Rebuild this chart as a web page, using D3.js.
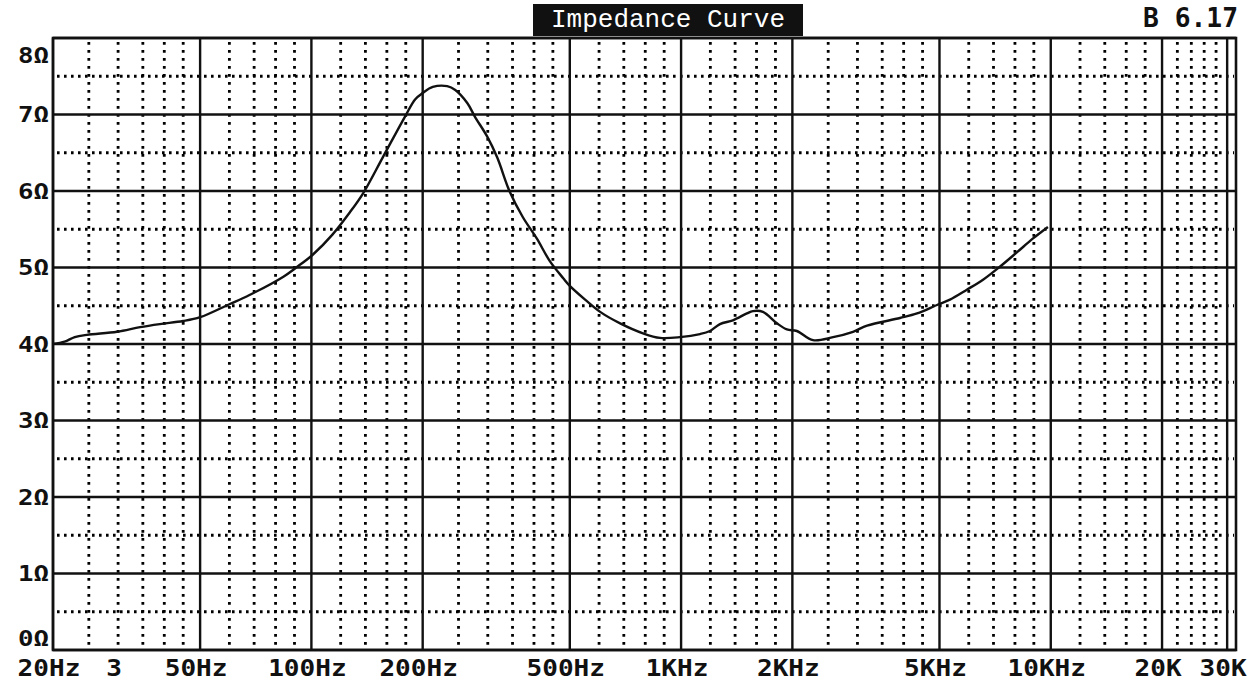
<!DOCTYPE html>
<html>
  <head>
    <meta charset="utf-8">
    <title>Impedance Curve</title>
    <script type="text/javascript" src="https://cdn.jsdelivr.net/npm/d3@7"></script>
    <style>
      body { margin: 0; background: #fff; }
    </style>
  </head>
  <body>
    <script type="text/javascript">
      var w = 1259
      var h = 682

      // curve
      var freqs = [20, 21.5, 22.9, 24.7, 29.8, 34.4, 38.9, 45, 50, 60, 68, 84, 91, 101, 114,
                   127, 138, 156, 179, 191, 200, 213, 233, 245, 264, 277, 299, 318, 344, 373,
                   407, 442, 480, 500, 550, 604, 684, 789, 877, 993, 1125, 1197, 1274, 1381, 1507,
                   1564, 1665, 1817, 1933, 2056, 2275, 2577, 2918, 3185, 3910, 4348, 4923, 5336, 5929, 6558,
                   7283, 8107, 8955, 9825];
      var ohms = [4.00, 4.03, 4.09, 4.12, 4.16, 4.22, 4.26, 4.30, 4.35, 4.52, 4.64, 4.88, 5.00, 5.17, 5.43,
                  5.72, 5.97, 6.44, 6.97, 7.20, 7.28, 7.36, 7.37, 7.32, 7.15, 6.97, 6.71, 6.44, 5.99, 5.66,
                  5.38, 5.08, 4.86, 4.76, 4.58, 4.42, 4.27, 4.14, 4.08, 4.09, 4.13, 4.17, 4.26, 4.31, 4.40,
                  4.43, 4.42, 4.27, 4.19, 4.17, 4.05, 4.09, 4.16, 4.24, 4.34, 4.40, 4.51, 4.58, 4.71, 4.84,
                  5.01, 5.20, 5.38, 5.53];

      // grid and labels
      var majorFreqs = [20, 50, 100, 200, 500, 1000, 2000, 5000, 10000, 20000, 30000];
      var minorFreqs = [25, 30, 35, 40, 45, 60, 70, 80, 90, 120, 140, 160, 180,
                        250, 300, 350, 400, 450, 600, 700, 800, 900, 1200, 1400, 1600, 1800,
                        2500, 3000, 3500, 4000, 4500, 6000, 7000, 8000, 9000,
                        12000, 14000, 16000, 18000, 22000, 24000, 26000, 28000];
      var xTickValues = [20, 30, 50, 100, 200, 500, 1000, 2000, 5000, 10000, 20000, 30000];
      var xTickLabels = ["20Hz", "3", "50Hz", "100Hz", "200Hz", "500Hz", "1KHz", "2KHz",
                         "5KHz", "10KHz", "20K", "30K"];
      var majorOhms = [0, 1, 2, 3, 4, 5, 6, 7, 8];
      var minorOhms = [0.5, 1.5, 2.5, 3.5, 4.5, 5.5, 6.5, 7.5];
      var yTickLabels = ["0Ω", "1Ω", "2Ω", "3Ω", "4Ω", "5Ω", "6Ω", "7Ω", "8Ω"];

      // plot box ("top" is taken by window.top, so use other names)
      var pLeft = 53, pRight = 1236, pTop = 38, pBottom = 650;

      var x = d3.scaleLog().domain([20, 31700]).range([pLeft, pRight]);
      var y = d3.scaleLinear().domain([0, 8]).range([pBottom, pTop]);

      var svg = d3.select("body").append("svg");
      svg.attr("width", w)
         .attr("height", h);
      svg.append("rect").attr("width", w).attr("height", h).attr("fill", "#fff");

      // dotted minor grid
      svg.selectAll(".minorX")
         .data(minorFreqs)
         .enter()
         .append("line")
         .attr("x1", function(d) { return x(d); })
         .attr("x2", function(d) { return x(d); })
         .attr("y1", pTop + 4)
         .attr("y2", pBottom - 2)
         .attr("stroke", "#000")
         .attr("stroke-width", 2.8)
         .attr("stroke-dasharray", "2.8,5.2");
      svg.selectAll(".minorY")
         .data(minorOhms)
         .enter()
         .append("line")
         .attr("x1", pLeft + 4)
         .attr("x2", pRight - 2)
         .attr("y1", function(d) { return y(d); })
         .attr("y2", function(d) { return y(d); })
         .attr("stroke", "#000")
         .attr("stroke-width", 2.8)
         .attr("stroke-dasharray", "2.6,4.4");

      // solid major grid
      svg.selectAll(".majorX")
         .data(majorFreqs)
         .enter()
         .append("line")
         .attr("x1", function(d) { return x(d); })
         .attr("x2", function(d) { return x(d); })
         .attr("y1", pTop)
         .attr("y2", pBottom)
         .attr("stroke", "#111")
         .attr("stroke-width", 2.4);
      svg.selectAll(".majorY")
         .data(majorOhms)
         .enter()
         .append("line")
         .attr("x1", pLeft)
         .attr("x2", pRight)
         .attr("y1", function(d) { return y(d); })
         .attr("y2", function(d) { return y(d); })
         .attr("stroke", "#111")
         .attr("stroke-width", 2.4);

      // frame
      svg.append("rect")
         .attr("x", pLeft)
         .attr("y", pTop)
         .attr("width", pRight - pLeft)
         .attr("height", pBottom - pTop)
         .attr("fill", "none")
         .attr("stroke", "#111")
         .attr("stroke-width", 2.6);

      // impedance curve
      var line = d3.line()
                   .x(function(d, i) { return x(freqs[i]); })
                   .y(function(d) { return y(d); })
                   .curve(d3.curveCatmullRom.alpha(0.5));
      svg.append("path")
         .attr("d", line(ohms))
         .attr("fill", "none")
         .attr("stroke", "#111")
         .attr("stroke-width", 2.4)
         .attr("stroke-linejoin", "round");

      // x labels
      svg.selectAll(".xlab")
         .data(xTickValues)
         .enter()
         .append("text")
         .attr("x", function(d, i) {
           var half = xTickLabels[i].length * 15.7 / 2;
           return Math.max(x(d) - 4, 7 + half);
         })
         .attr("y", 676)
         .attr("text-anchor", "middle")
         .attr("font-family", "DejaVu Sans Mono")
         .attr("font-weight", "bold")
         .attr("font-size", 23)
         .attr("textLength", function(d, i) { return xTickLabels[i].length * 15.7; })
         .attr("lengthAdjust", "spacingAndGlyphs")
         .attr("fill", "#111")
         .text(function(d, i) { return xTickLabels[i]; });

      // y labels
      svg.selectAll(".ylab")
         .data(majorOhms)
         .enter()
         .append("text")
         .attr("x", 49)
         .attr("y", function(d) {
           return Math.min(Math.max(y(d), pTop + 17), pBottom - 12) + 7.5;
         })
         .attr("text-anchor", "end")
         .attr("font-family", "DejaVu Sans Mono")
         .attr("font-weight", "bold")
         .attr("font-size", 21)
         .attr("textLength", 31)
         .attr("lengthAdjust", "spacingAndGlyphs")
         .attr("fill", "#111")
         .text(function(d, i) { return yTickLabels[i]; });

      // title box
      svg.append("rect")
         .attr("x", 533)
         .attr("y", 4)
         .attr("width", 270)
         .attr("height", 32)
         .attr("fill", "#111");
      svg.append("text")
         .attr("x", 668)
         .attr("y", 27)
         .attr("text-anchor", "middle")
         .attr("font-family", "Liberation Mono")
         .attr("font-size", 26)
         .attr("textLength", 234)
         .attr("lengthAdjust", "spacingAndGlyphs")
         .attr("fill", "#fff")
         .text("Impedance Curve");

      svg.append("text")
         .attr("x", 1238)
         .attr("y", 27)
         .attr("text-anchor", "end")
         .attr("font-family", "DejaVu Sans Mono")
         .attr("font-weight", "bold")
         .attr("font-size", 26)
         .attr("textLength", 95)
         .attr("lengthAdjust", "spacingAndGlyphs")
         .attr("fill", "#111")
         .text("B 6.17");
    </script>
  </body>
</html>
